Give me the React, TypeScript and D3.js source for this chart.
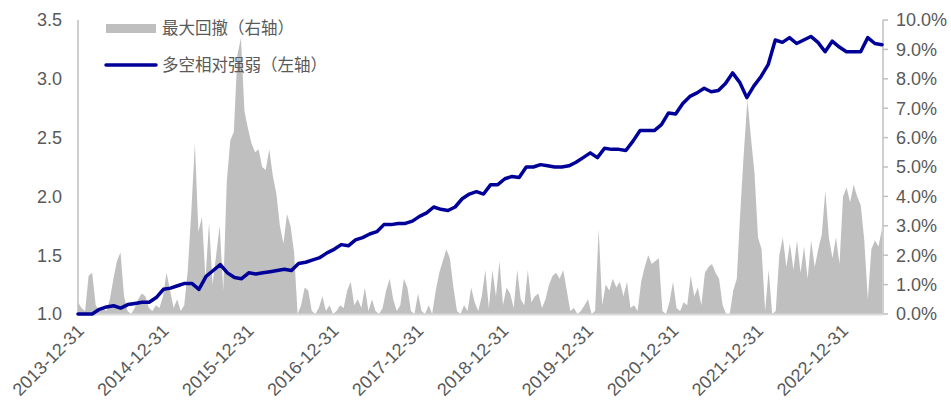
import React from "react";
import * as d3 from "d3";

// 多空相对强弱 (left axis), monthly readings
const strength = [
  1.0, 1.0, 1.0, 1.04, 1.06, 1.07, 1.05, 1.08, 1.09, 1.1,
  1.1, 1.14, 1.21, 1.22, 1.24, 1.26, 1.26, 1.21, 1.32, 1.37,
  1.42, 1.35, 1.31, 1.3, 1.35, 1.34, 1.35, 1.36, 1.37, 1.38,
  1.37, 1.43, 1.44, 1.46, 1.48, 1.52, 1.55, 1.59, 1.58, 1.63,
  1.65, 1.68, 1.7, 1.76, 1.76, 1.77, 1.77, 1.79, 1.83, 1.86,
  1.91, 1.89, 1.88, 1.91, 1.98, 2.02, 2.04, 2.02, 2.1, 2.1,
  2.15, 2.17, 2.16, 2.25, 2.25, 2.27, 2.26, 2.25, 2.25, 2.26,
  2.29, 2.33, 2.37, 2.33, 2.41, 2.4, 2.4, 2.39, 2.47, 2.56,
  2.56, 2.56, 2.61, 2.71, 2.7, 2.79, 2.85, 2.88, 2.92, 2.89,
  2.9, 2.96, 3.05, 2.97, 2.84, 2.94, 3.02, 3.12, 3.33, 3.31,
  3.35, 3.3, 3.33, 3.36, 3.31, 3.23, 3.32, 3.27, 3.23, 3.23,
  3.23, 3.35, 3.3, 3.29,
];

// 最大回撤 (right axis, %), half-monthly readings
const drawdown = [
  0.4, 0.2, 0.1, 1.3, 1.4, 0.3, 0.1, 0.2, 0.1, 0.5,
  1.2, 1.8, 2.1, 0.6, 0.1, 0.0, 0.2, 0.5, 0.7, 0.6,
  0.2, 0.1, 0.3, 0.2, 0.6, 1.4, 0.8, 0.2, 0.5, 0.1,
  0.3, 1.5, 3.5, 5.8, 2.8, 3.3, 1.2, 3.1, 1.0, 2.0,
  3.0, 0.8, 4.5, 5.9, 6.2, 8.8, 9.4, 6.9, 6.3, 5.8,
  5.5, 5.6, 5.0, 4.9, 5.6, 4.7, 4.1, 3.0, 2.4, 3.4,
  3.0, 2.1, 0.0, 0.3, 0.9, 0.8, 0.1, 0.0, 0.2, 0.6,
  0.1, 0.3, 0.0, 0.1, 0.3, 0.2, 0.8, 1.1, 0.3, 0.5,
  0.2, 0.9, 0.1, 0.5, 0.1, 0.0, 0.2, 0.8, 1.2, 0.5,
  0.1, 0.3, 1.2, 0.9, 0.1, 0.0, 0.7, 0.1, 0.0, 0.3,
  0.0, 0.8, 1.4, 1.8, 2.2, 1.9, 0.9, 0.1, 0.0, 0.3,
  0.1, 0.9, 0.4, 0.1, 0.6, 1.5, 0.2, 1.5, 0.6, 1.8,
  0.3, 0.9, 0.7, 0.2, 1.5, 0.5, 0.3, 1.5, 0.4, 0.6,
  0.7, 0.2, 0.5, 1.0, 1.3, 1.4, 1.2, 1.5, 0.8, 0.1,
  0.2, 0.0, 0.1, 0.3, 0.5, 0.0, 0.1, 2.9, 0.3, 1.0,
  0.8, 1.2, 0.9, 1.1, 0.6, 1.1, 0.2, 0.3, 0.1, 1.1,
  1.6, 2.0, 1.7, 1.8, 1.9, 0.1, 0.0, 0.4, 1.1, 0.2,
  0.1, 0.4, 0.3, 1.3, 0.6, 0.9, 0.3, 1.4, 1.6, 1.7,
  1.4, 1.2, 0.3, 0.0, 0.0, 0.8, 1.2, 3.5, 5.5, 7.3,
  6.0, 4.8, 2.6, 2.2, 0.1, 1.5, 0.0, 0.1, 2.0, 2.6,
  1.6, 2.4, 1.5, 2.5, 1.4, 2.3, 1.2, 2.5, 1.6, 2.2,
  2.7, 4.2, 2.6, 1.9, 2.6, 1.7, 4.0, 4.3, 3.8, 4.4,
  4.0, 3.7, 2.5, 0.5, 2.2, 2.5, 2.3, 2.9,
];

const leftTicks = [1.0, 1.5, 2.0, 2.5, 3.0, 3.5];
const rightTicks = [0, 1, 2, 3, 4, 5, 6, 7, 8, 9, 10];
const yearTicks = [
  "2013-12-31", "2014-12-31", "2015-12-31", "2016-12-31", "2017-12-31",
  "2018-12-31", "2019-12-31", "2020-12-31", "2021-12-31", "2022-12-31",
];
const startDate = "2013-12-31";
const endDate = "2023-06-20";

const W = 951;
const H = 403;
const left = 78;
const right = 882;
const top = 20;
const bottom = 314;

const labelFont = "'Liberation Sans', Arial, sans-serif";
const textColor = "#595959";

export default function App() {
  const parse = d3.timeParse("%Y-%m-%d");
  const t0 = parse(startDate) as Date;
  const t1 = parse(endDate) as Date;

  const x = d3.scaleTime().domain([t0, t1]).range([left, right]);
  const yL = d3.scaleLinear().domain([1, 3.5]).range([bottom, top]);
  const yR = d3.scaleLinear().domain([0, 10]).range([bottom, top]);

  // series are evenly spaced over the period
  const dateAt = (i: number, n: number) =>
    new Date(t0.getTime() + ((t1.getTime() - t0.getTime()) * i) / (n - 1));

  const area = d3
    .area<number>()
    .x((_, i) => x(dateAt(i, drawdown.length)))
    .y0(bottom)
    .y1((d) => yR(d));

  const line = d3
    .line<number>()
    .x((_, i) => x(dateAt(i, strength.length)))
    .y((d) => yL(d));

  const axisRight = x(t1) + 1;

  return (
    <svg width={W} height={H} style={{ position: "absolute", left: 0, top: 0 }}>
      <rect width={W} height={H} fill="#fff" />
      <path d={area(drawdown) || ""} fill="#bfbfbf" />

      {/* axes */}
      <line x1={left} x2={left} y1={top} y2={bottom} stroke="#bfbfbf" strokeWidth={1.5} />
      <line x1={axisRight} x2={axisRight} y1={top} y2={bottom} stroke="#bfbfbf" strokeWidth={1.5} />
      <line x1={left} x2={axisRight} y1={bottom + 0.5} y2={bottom + 0.5} stroke="#d9d9d9" strokeWidth={2} />

      <path
        d={line(strength) || ""}
        fill="none"
        stroke="#000099"
        strokeWidth={3.5}
        strokeLinejoin="round"
        strokeLinecap="round"
      />

      {leftTicks.map((v) => (
        <text
          key={v}
          x={62}
          y={yL(v)}
          dy="0.35em"
          textAnchor="end"
          fontFamily={labelFont}
          fontSize={18}
          fill={textColor}
        >
          {v.toFixed(1)}
        </text>
      ))}

      {rightTicks.map((v) => (
        <g key={v}>
          <line x1={axisRight} x2={axisRight + 5} y1={yR(v)} y2={yR(v)} stroke="#bfbfbf" strokeWidth={1.5} />
          <text
            x={896}
            y={yR(v)}
            dy="0.35em"
            fontFamily={labelFont}
            fontSize={18}
            fill={textColor}
          >
            {v.toFixed(1) + "%"}
          </text>
        </g>
      ))}

      {yearTicks.map((s) => {
        const px = x(parse(s) as Date);
        return (
          <text
            key={s}
            transform={`translate(${px + 7},${332}) rotate(-45)`}
            textAnchor="end"
            fontFamily={labelFont}
            fontSize={18}
            fill={textColor}
          >
            {s}
          </text>
        );
      })}

      {/* legend */}
      <rect x={106} y={24} width={50} height={9} fill="#bfbfbf" />
      <text x={162} y={28} dy="0.35em" fontFamily="'Noto Sans CJK SC', sans-serif" fontSize={16.5} fill={textColor}>
        最大回撤（右轴）
      </text>
      <line x1={106} x2={156} y1={65} y2={65} stroke="#000099" strokeWidth={3.5} strokeLinecap="round" />
      <text x={162} y={65} dy="0.35em" fontFamily="'Noto Sans CJK SC', sans-serif" fontSize={16.5} fill={textColor}>
        多空相对强弱（左轴）
      </text>
    </svg>
  );
}
